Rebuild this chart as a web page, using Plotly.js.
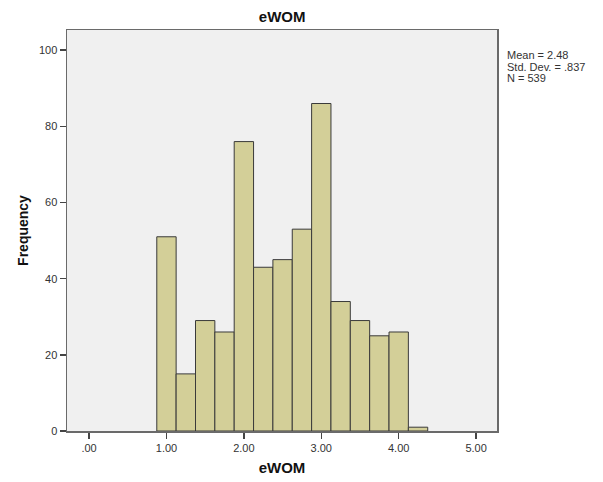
<!DOCTYPE html>
<html>
<head>
<meta charset="utf-8">
<script src="https://cdn.plot.ly/plotly-3.0.1.min.js"></script>
<style>
  html, body { margin: 0; padding: 0; background: #ffffff; }
  #chart { width: 603px; height: 482px; }
</style>
</head>
<body>
<div id="chart"></div>
<script>
// eWOM score distribution: bins of width 0.25
const binStarts = [0.875, 1.125, 1.375, 1.625, 1.875, 2.125, 2.375, 2.625, 2.875, 3.125, 3.375, 3.625, 3.875, 4.125];
const counts = [51, 15, 29, 26, 76, 43, 45, 53, 86, 34, 29, 25, 26, 1];
const binWidth = 0.25;

const xTickVals = [0, 1, 2, 3, 4, 5];
const xTickText = ['.00', '1.00', '2.00', '3.00', '4.00', '5.00'];
const yTickVals = [0, 20, 40, 60, 80, 100];

const statsLines = ['Mean = 2.48', 'Std. Dev. = .837', 'N = 539'];

const FONT = 'Liberation Sans, Arial, sans-serif';

const trace = {
  type: 'bar',
  x: binStarts,
  y: counts,
  width: binWidth,
  offset: 0,
  marker: {
    color: '#d3cf98',
    line: { color: '#3a3a3a', width: 1 }
  },
  hoverinfo: 'x+y'
};

// summary statistics block to the right of the plot, one line per annotation
const statsAnnotations = statsLines.map((line, i) => ({
  xref: 'paper', yref: 'paper',
  x: 1.021, y: 0.937 - i * 0.0285,
  xanchor: 'left', yanchor: 'middle',
  align: 'left',
  showarrow: false,
  borderpad: 0,
  text: line,
  font: { family: FONT, size: 11, color: '#333333' }
}));

const layout = {
  width: 603,
  height: 482,
  margin: { l: 67, r: 106, t: 30, b: 51, pad: 0 },
  paper_bgcolor: '#ffffff',
  plot_bgcolor: '#f0f0f0',
  showlegend: false,
  bargap: 0,
  title: {
    text: '<b>eWOM</b>',
    font: { family: FONT, size: 15, color: '#111111' },
    x: 0.468, xanchor: 'center',
    y: 0.965, yanchor: 'middle'
  },
  xaxis: {
    range: [-0.285, 5.27],
    tickvals: xTickVals,
    ticktext: xTickText,
    ticks: 'outside',
    ticklen: 6,
    tickwidth: 1.5,
    tickcolor: '#444444',
    showline: true,
    mirror: true,
    linecolor: '#6a6a6a',
    linewidth: 1.5,
    showgrid: false,
    zeroline: false,
    tickfont: { family: FONT, size: 11, color: '#333333' },
    title: {
      text: '<b>eWOM</b>',
      font: { family: FONT, size: 15, color: '#111111' },
      standoff: 10
    }
  },
  yaxis: {
    range: [0, 105.3],
    tickvals: yTickVals,
    ticks: 'outside',
    ticklen: 6,
    tickwidth: 1.5,
    tickcolor: '#444444',
    showline: true,
    mirror: true,
    linecolor: '#6a6a6a',
    linewidth: 1.5,
    showgrid: false,
    zeroline: false,
    tickfont: { family: FONT, size: 11, color: '#333333' },
    title: {
      text: '<b>Frequency</b>',
      font: { family: FONT, size: 14, color: '#111111' },
      standoff: 7
    }
  },
  annotations: statsAnnotations
};

Plotly.newPlot('chart', [trace], layout, { displayModeBar: false, staticPlot: true });
</script>
</body>
</html>
